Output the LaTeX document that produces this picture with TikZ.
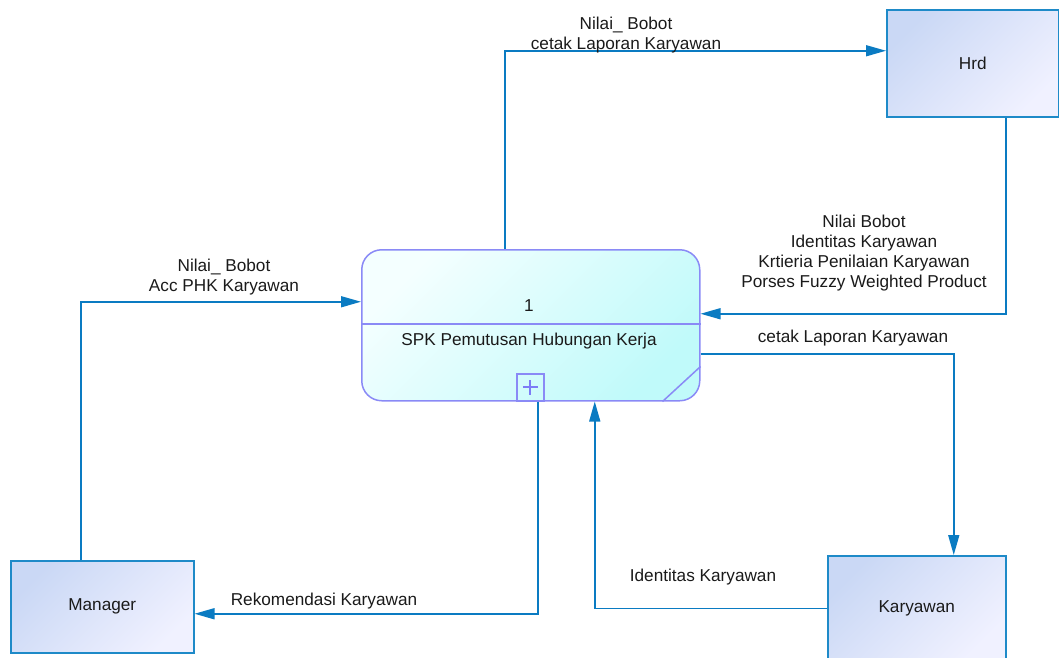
\documentclass[tikz,border=0pt]{standalone}
\usepackage{fontspec}
\setmainfont{Liberation Sans}
\usetikzlibrary{arrows.meta,calc}
\definecolor{flowblue}{HTML}{0A7BC2}
\definecolor{entborder}{HTML}{1E8AC8}
\definecolor{entA}{HTML}{CAD8F5}
\definecolor{entB}{HTML}{F0F1FF}
\definecolor{procborder}{HTML}{8A8AF6}
\definecolor{procA}{HTML}{F4FFFF}
\definecolor{procB}{HTML}{C0FAFA}
\definecolor{txt}{HTML}{1A1A1A}
\tikzset{
  lbl/.style={font=\fontsize{17.2}{20}\selectfont, text=txt, align=center, inner sep=0pt},
  entity/.style={draw=entborder, line width=1.5pt, top color=entA, bottom color=entB,
    shading angle=45, anchor=north west, inner sep=0pt, font=\fontsize{17.2}{20}\selectfont, text=txt},
  process/.style={draw=procborder, line width=1.5pt, top color=procA, bottom color=procB,
    shading angle=45, rounded corners=20pt, anchor=north west, inner sep=0pt},
  flow/.style={draw=flowblue, line width=1.5pt, -{Triangle[length=20pt, width=11pt]}},
}
\begin{document}
\begin{tikzpicture}[x=1pt, y=-1pt]
\useasboundingbox (0,0) rectangle (1059,657);
\clip (0,0) rectangle (1059,657);

% external entities
\node[entity, minimum width=172pt, minimum height=107pt] (hrd) at (886,9) {Hrd};
\node[entity, minimum width=183pt, minimum height=92pt] (man) at (10,560) {Manager};
\node[entity, minimum width=178pt, minimum height=105pt] (kar) at (827,555) {Karyawan};

% process
\node[process, minimum width=338pt, minimum height=151pt] (proc) at (361,249) {};
\draw[procborder, line width=1.5pt] ([yshift=1.5pt]proc.west) -- ([yshift=1.5pt]proc.east);
\node[lbl] (pnum) at (529,306) {1};
\node[lbl] (pname) at (529,341) {SPK Pemutusan Hubungan Kerja};
\node[draw=procborder, line width=1.5pt, minimum size=27pt, inner sep=0pt, anchor=south]
  (pplus) at ([xshift=-0.5pt]proc.south) {};
\draw[procborder!90!blue, line width=1.6pt] ([xshift=-7.5pt]pplus.center) -- ([xshift=7.5pt]pplus.center)
  ([yshift=-7.5pt]pplus.center) -- ([yshift=7.5pt]pplus.center);
\draw[procborder, line width=1.5pt] ([yshift=35pt]proc.south east) -- ([xshift=-38pt]proc.south east);

% data flows
\draw[flow] ([xshift=144pt]proc.north west) |- ([yshift=12.5pt]hrd.west);
\draw[flow] ([xshift=33pt]hrd.south) |- ([yshift=11.5pt]proc.east);
\draw[flow] ([yshift=-28.5pt]proc.east) -| ([xshift=37pt]kar.north);
\draw[flow] (kar.west) -| ([xshift=64pt]proc.south);
\draw[flow] ([xshift=7pt]proc.south) |- ([yshift=-7pt]man.east);
\draw[flow] ([xshift=-21.5pt]man.north) |- ([yshift=23.5pt]proc.west);

% flow labels
\node[lbl] (l1) at (626,35) {Nilai\_ Bobot\\cetak Laporan Karyawan};
\node[lbl] (l2) at (864,253) {Nilai Bobot\\Identitas Karyawan\\Krtieria Penilaian Karyawan\\Porses Fuzzy Weighted Product};
\node[lbl] (l3) at (853,338) {cetak Laporan Karyawan};
\node[lbl] (l4) at (703,577) {Identitas Karyawan};
\node[lbl] (l5) at (324,601) {Rekomendasi Karyawan};
\node[lbl] (l6) at (224,277) {Nilai\_ Bobot\\Acc PHK Karyawan};
\end{tikzpicture}
\end{document}
